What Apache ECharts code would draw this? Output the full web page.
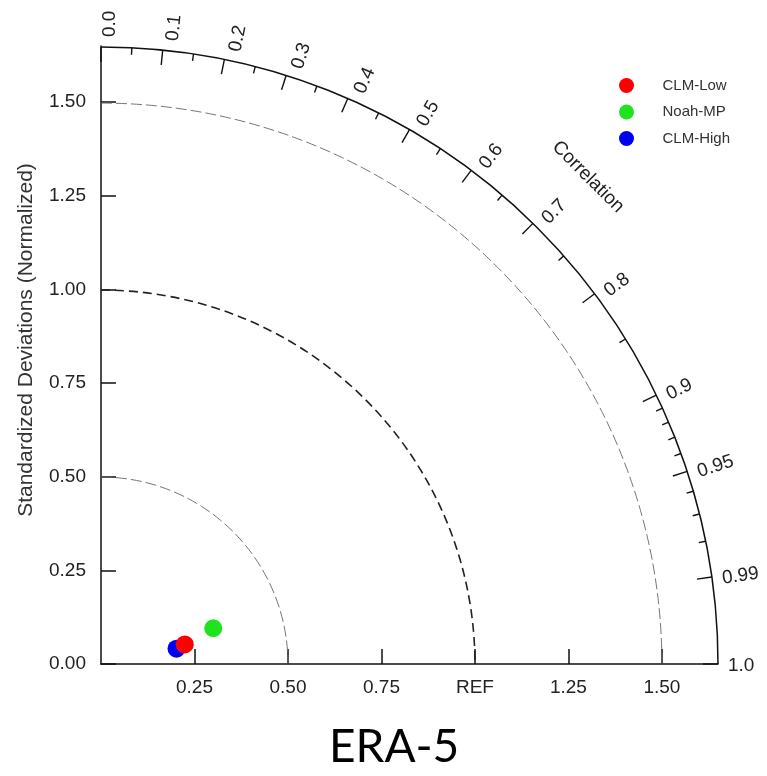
<!DOCTYPE html>
<html><head><meta charset="utf-8">
<script src="https://cdn.jsdelivr.net/npm/echarts@6/dist/echarts.min.js"></script>
<style>html,body{margin:0;padding:0;background:#fff}#c{width:767px;height:776px}</style>
</head><body><div id="c"></div>
<script>
// ---- data ----
const seriesNames = ['CLM-Low', 'Noah-MP', 'CLM-High'];
const stdDev = [0.230, 0.315, 0.206];          // normalized standard deviation
const corrVals = [0.974, 0.953, 0.980];        // correlation
const stdTicks = [0, 0.25, 0.5, 0.75, 1.0, 1.25, 1.5];
const xTickLabels = ['', '0.25', '0.50', '0.75', 'REF', '1.25', '1.50'];
const yTickLabels = ['0.00', '0.25', '0.50', '0.75', '1.00', '1.25', '1.50'];
const corrMajor = [0.0, 0.1, 0.2, 0.3, 0.4, 0.5, 0.6, 0.7, 0.8, 0.9, 0.95, 0.99, 1.0];
const corrMajorLabels = ['0.0', '0.1', '0.2', '0.3', '0.4', '0.5', '0.6', '0.7', '0.8', '0.9', '0.95', '0.99', '1.0'];
const corrMinor = [0.05, 0.15, 0.25, 0.35, 0.45, 0.55, 0.65, 0.75, 0.85, 0.91, 0.92, 0.93, 0.94, 0.96, 0.97, 0.98];
const stdContours = [0.5, 1.0, 1.5];
const maxStd = 1.65;

const FONT = 'Liberation Sans, Arial, sans-serif';
const chart = echarts.init(document.getElementById('c'), null, {renderer: 'canvas'});

function pointOf(i) {
  const s = stdDev[i], c = corrVals[i];
  return [s * c, s * Math.sqrt(1 - c * c)];
}

function arcRender(params, api) {
  const r = api.value(0);
  const o = api.coord([0, 0]);
  const rp = api.coord([r, 0])[0] - o[0];
  const isRef = Math.abs(r - 1) < 1e-9;
  return {
    type: 'arc',
    shape: {cx: o[0], cy: o[1], r: rp, startAngle: -Math.PI / 2, endAngle: 0, clockwise: true},
    style: isRef
      ? {fill: null, stroke: '#222', lineWidth: 1.6, lineDash: [9, 5]}
      : {fill: null, stroke: '#666', lineWidth: 0.9, lineDash: [11, 4]}
  };
}

function outerRender(params, api) {
  const o = api.coord([0, 0]);
  const rp = api.coord([maxStd, 0])[0] - o[0];
  const children = [{
    type: 'arc',
    shape: {cx: o[0], cy: o[1], r: rp, startAngle: -Math.PI / 2, endAngle: 0, clockwise: true},
    style: {fill: null, stroke: '#111', lineWidth: 1.5}
  }];
  const rt = api.coord([1.842, 0])[0] - o[0];
  const a = Math.PI / 4;
  children.push({
    type: 'text', x: o[0] + rt * Math.cos(a), y: o[1] - rt * Math.sin(a), rotation: -a,
    style: {text: 'Correlation', fill: '#222', font: '19px ' + FONT, align: 'center', verticalAlign: 'middle'}
  });
  return {type: 'group', children: children};
}

function corrTickRender(params, api) {
  const c = api.value(0), major = api.value(1), li = api.value(2);
  const th = Math.acos(Math.min(1, c));
  const o = api.coord([0, 0]);
  const R = api.coord([maxStd, 0])[0] - o[0];
  const ux = Math.cos(th), uy = -Math.sin(th);
  const len = major ? 15 : 7;
  const children = [{
    type: 'line',
    shape: {x1: o[0] + ux * R, y1: o[1] + uy * R, x2: o[0] + ux * (R - len), y2: o[1] + uy * (R - len)},
    style: {stroke: '#111', lineWidth: 1.4}
  }];
  if (major && li >= 0) {
    const rad = R + 10;
    const perp = 2 + 7 * Math.sin(th);   // shift toward clockwise side
    const px = Math.sin(th), py = Math.cos(th);
    children.push({
      type: 'text', x: o[0] + ux * rad + px * perp, y: o[1] + uy * rad + py * perp, rotation: th,
      style: {text: corrMajorLabels[li], fill: '#222', font: '19px ' + FONT, align: 'left', verticalAlign: 'middle'}
    });
  }
  return {type: 'group', children: children};
}

const colors = {'CLM-Low': '#ff0000', 'Noah-MP': '#1fe31f', 'CLM-High': '#0000f0'};
const zOrder = {'CLM-Low': 12, 'Noah-MP': 10, 'CLM-High': 11};

const scatterSeries = seriesNames.map((name, i) => ({
  name: name, type: 'scatter', symbol: 'circle', symbolSize: 18,
  itemStyle: {color: colors[name], opacity: 1},
  z: zOrder[name],
  data: [pointOf(i)],
  silent: true
}));

const option = {
  backgroundColor: '#fff',
  animation: false,
  title: {
    text: 'ERA-5', left: 329, top: 724, padding: 0,
    textStyle: {fontFamily: 'Lato, Open Sans, sans-serif', fontSize: 46, fontWeight: 'normal', color: '#000'}
  },
  legend: {
    data: seriesNames, orient: 'vertical', left: 614, top: 73,
    itemWidth: 62, itemHeight: 15, itemGap: 11.5, icon: 'circle', selectedMode: false,
    textStyle: {fontSize: 15, color: '#333', fontFamily: FONT}
  },
  grid: {left: 101, right: 49, top: 46, bottom: 112, containLabel: false},
  xAxis: {
    type: 'value', min: 0, max: maxStd, interval: 0.25,
    splitLine: {show: false},
    axisLine: {show: true, onZero: false, lineStyle: {color: '#111', width: 1.5}},
    axisTick: {show: true, inside: true, length: 15, customValues: stdTicks.slice(1), lineStyle: {color: '#111', width: 1.5}},
    axisLabel: {
      customValues: stdTicks.slice(1), margin: 14, fontSize: 19, color: '#222', fontFamily: FONT,
      formatter: v => { const k = stdTicks.findIndex(t => Math.abs(t - v) < 1e-6); return k >= 0 ? xTickLabels[k] : ''; }
    }
  },
  yAxis: {
    type: 'value', min: 0, max: maxStd, interval: 0.25,
    splitLine: {show: false},
    axisLine: {show: true, onZero: false, lineStyle: {color: '#111', width: 1.5}},
    axisTick: {show: true, inside: true, length: 15, customValues: stdTicks, lineStyle: {color: '#111', width: 1.5}},
    axisLabel: {
      customValues: stdTicks, margin: 15, fontSize: 19, color: '#222', fontFamily: FONT,
      formatter: v => { const k = stdTicks.findIndex(t => Math.abs(t - v) < 1e-6); return k >= 0 ? yTickLabels[k] : ''; }
    }
  },
  graphic: [{
    type: 'text', x: 26, y: 340, rotation: Math.PI / 2,
    style: {text: 'Standardized Deviations (Normalized)', fill: '#333', font: '21px ' + FONT, align: 'center', verticalAlign: 'middle'}
  }],
  series: [
    {type: 'custom', name: 'contours', renderItem: arcRender, data: stdContours.map(r => [r]), clip: false, silent: true, z: 2},
    {type: 'custom', name: 'outer', renderItem: outerRender, data: [[maxStd]], clip: false, silent: true, z: 3},
    {type: 'custom', name: 'corrTicks', renderItem: corrTickRender,
      data: corrMajor.map((c, i) => [c, 1, i]).concat(corrMinor.map(c => [c, 0, -1])), clip: false, silent: true, z: 3}
  ].concat(scatterSeries)
};
chart.setOption(option);
</script>
</body></html>
